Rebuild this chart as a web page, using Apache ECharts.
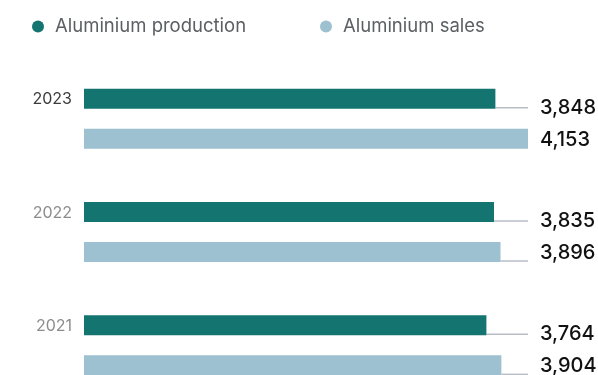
<!DOCTYPE html>
<html>
<head>
<meta charset="utf-8">
<script src="https://cdn.jsdelivr.net/npm/echarts@6/dist/echarts.min.js"></script>
<style>
html,body{margin:0;padding:0;background:#fff;}
#chart{width:598px;height:375px;}
</style>
</head>
<body>
<div id="chart"></div>
<script>
const years = ['2023', '2022', '2021'];
const production = [3848, 3835, 3764];
const sales = [4153, 3896, 3904];
const seriesNames = ['Aluminium production', 'Aluminium sales'];

const trackMax = Math.max(...production, ...sales);
const FONT = 'Inter';
const colors = ['#137470', '#9dc1d0'];

const decorData = [];
years.forEach((y, i) => {
  decorData.push([i, production[i], 0]);
  decorData.push([i, sales[i], 1]);
});

const chart = echarts.init(document.getElementById('chart'));
chart.setOption({
  animation: false,
  backgroundColor: '#fff',
  legend: [
    { left: 32, top: 17, padding: 0, icon: 'circle', itemWidth: 12, itemHeight: 12, selectedMode: false,
      data: [seriesNames[0]],
      textStyle: { fontFamily: FONT, fontSize: 18.5, color: '#5a6064', padding: [0, 0, 0, 6] } },
    { left: 320, top: 17, padding: 0, icon: 'circle', itemWidth: 12, itemHeight: 12, selectedMode: false,
      data: [seriesNames[1]],
      textStyle: { fontFamily: FONT, fontSize: 18.5, color: '#5a6064', padding: [0, 0, 0, 6] } }
  ],
  grid: { left: 84, right: 70, top: 62, height: 340, outerBoundsMode: 'none', containLabel: false },
  xAxis: { type: 'value', min: 0, max: trackMax, show: false },
  yAxis: { type: 'category', data: years, inverse: true, show: false },
  series: [
    { name: seriesNames[0], type: 'bar', data: production, barWidth: 20, barGap: '100%',
      itemStyle: { color: colors[0] }, silent: true },
    { name: seriesNames[1], type: 'bar', data: sales, barWidth: 20, barGap: '100%',
      itemStyle: { color: colors[1] }, silent: true },
    {
      name: 'decor', type: 'custom', silent: true, clip: false, z: 1,
      data: decorData,
      encode: { x: 1, y: 0 },
      renderItem: function (params, api) {
        const ci = api.value(0), val = api.value(1), which = api.value(2);
        const c = api.coord([val, ci]);
        const end = api.coord([trackMax, ci]);
        const start = api.coord([0, ci]);
        const cy = c[1] + (which === 0 ? -20 : 20);
        const lineY = cy + 9;
        const children = [];
        if (end[0] - c[0] > 0.5) {
          children.push({ type: 'line', shape: { x1: c[0], y1: lineY, x2: end[0], y2: lineY },
            style: { stroke: '#b9bec6', lineWidth: 1.5 } });
        }
        children.push({ type: 'text', x: end[0] + 12, y: cy + (which === 0 ? 9 : 1),
          style: { text: val.toLocaleString('en-US'), fontFamily: FONT, fontSize: 20, fontWeight: 500,
            fill: '#111', textAlign: 'left', textVerticalAlign: 'middle' } });
        if (which === 0) {
          children.push({ type: 'text', x: start[0] - 12, y: cy + 1,
            style: { text: years[ci], fontFamily: FONT, fontSize: 16,
              fill: ci === 0 ? '#3b3b3b' : '#8d8d8d', textAlign: 'right', textVerticalAlign: 'middle' } });
        }
        return { type: 'group', children: children };
      }
    }
  ]
});
</script>
</body>
</html>
